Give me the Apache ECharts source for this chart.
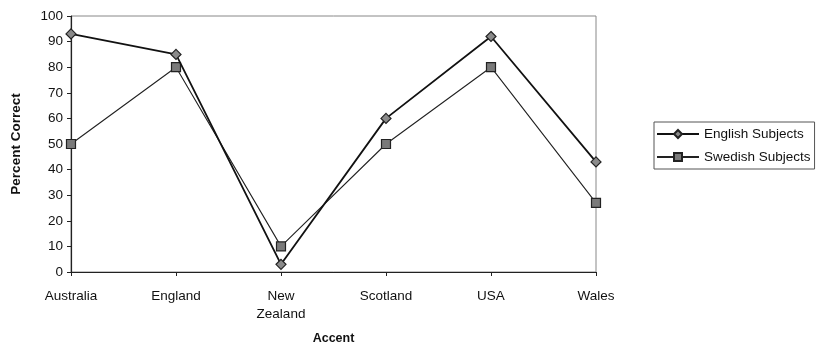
<!DOCTYPE html>
<html>
<head>
<meta charset="utf-8">
<script src="https://cdn.jsdelivr.net/npm/echarts@6/dist/echarts.min.js"></script>
<style>
  html, body { margin: 0; padding: 0; background: #fff; }
  #chart { width: 820px; height: 345px; }
</style>
</head>
<body>
<div id="chart"></div>
<script>
// Accent identification scores by listener group
const accents = ['Australia', 'England', 'New\nZealand', 'Scotland', 'USA', 'Wales'];
const englishSubjects = [93, 85, 3, 60, 92, 43];
const swedishSubjects = [50, 80, 10, 50, 80, 27];
const yTicks = { min: 0, max: 100, interval: 10 };

const FONT = '"Liberation Sans", Arial, sans-serif';
const chart = echarts.init(document.getElementById('chart'), null, { renderer: 'canvas' });

chart.setOption({
  backgroundColor: '#ffffff',
  animation: false,
  textStyle: { fontFamily: FONT, color: '#111' },
  grid: {
    left: 71, right: 224, top: 16, bottom: 73,
    outerBoundsMode: 'none', containLabel: false,
    show: true, borderColor: '#888', borderWidth: 1, backgroundColor: 'transparent'
  },
  legend: {
    orient: 'vertical',
    left: 654, top: 122,
    itemWidth: 42, itemHeight: 10, itemGap: 9,
    padding: [5, 4, 5, 2],
    borderColor: '#555', borderWidth: 1,
    textStyle: { fontFamily: FONT, fontSize: 13.5, color: '#111' },
    data: ['English Subjects', 'Swedish Subjects']
  },
  xAxis: {
    type: 'category',
    data: accents,
    boundaryGap: false,
    name: 'Accent',
    nameLocation: 'middle',
    nameGap: 60,
    nameTextStyle: { fontFamily: FONT, fontWeight: 'bold', fontSize: 12.5, color: '#111' },
    axisLine: { lineStyle: { color: '#222', width: 1.2 } },
    axisTick: { show: true, alignWithLabel: true, length: 4, lineStyle: { color: '#222' } },
    axisLabel: { fontFamily: FONT, fontSize: 13.5, color: '#111', margin: 15, lineHeight: 18 },
    splitLine: { show: false }
  },
  yAxis: {
    type: 'value',
    min: yTicks.min, max: yTicks.max, interval: yTicks.interval,
    name: 'Percent Correct',
    nameLocation: 'middle',
    nameGap: 48,
    nameTextStyle: { fontFamily: FONT, fontWeight: 'bold', fontSize: 13.5, color: '#111' },
    axisLine: { show: true, lineStyle: { color: '#222', width: 1.2 } },
    axisTick: { show: true, length: 4, lineStyle: { color: '#222' } },
    axisLabel: { fontFamily: FONT, fontSize: 13.5, color: '#111', margin: 8 },
    splitLine: { show: false }
  },
  series: [
    {
      name: 'English Subjects',
      type: 'line',
      data: englishSubjects,
      symbol: 'diamond',
      symbolSize: 10,
      lineStyle: { color: '#111', width: 1.8 },
      itemStyle: { color: '#8a8a8a', borderColor: '#222', borderWidth: 1.2 },
      z: 3
    },
    {
      name: 'Swedish Subjects',
      type: 'line',
      data: swedishSubjects,
      symbol: 'rect',
      symbolSize: 9,
      lineStyle: { color: '#222', width: 1.1 },
      itemStyle: { color: '#7a7a7a', borderColor: '#222', borderWidth: 1.2 },
      z: 2
    }
  ]
});
</script>
</body>
</html>
